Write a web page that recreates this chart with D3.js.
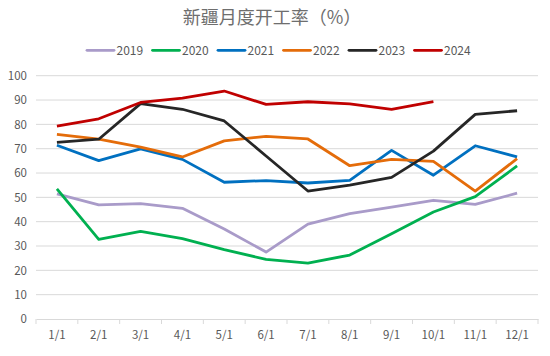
<!DOCTYPE html>
<html><head><meta charset="utf-8">
<script src="https://cdn.jsdelivr.net/npm/d3@7"></script>
<style>body{margin:0;background:#fff}svg{display:block}text{font-family:"Noto Sans CJK SC","Liberation Sans",sans-serif}</style>
</head><body><svg id="c" width="550" height="356"></svg>
<script>
const months = ["1/1","2/1","3/1","4/1","5/1","6/1","7/1","8/1","9/1","10/1","11/1","12/1"];
const yTicks = [0,10,20,30,40,50,60,70,80,90,100];
const v2019 = [51.4,46.9,47.4,45.5,37.0,27.5,39.0,43.3,46.0,48.8,47.1,51.7];
const v2020 = [53.5,32.7,36.0,33.0,28.5,24.5,23.0,26.3,35.0,44.0,50.3,62.9];
const v2021 = [71.4,65.1,69.9,65.6,56.2,56.9,55.9,57.0,69.3,59.1,71.2,66.6];
const v2022 = [75.9,73.9,70.6,66.6,73.2,75.1,74.0,63.0,65.6,64.8,52.6,65.9];
const v2023 = [72.6,73.9,88.5,86.2,81.4,67.0,52.6,55.0,58.2,69.0,84.1,85.6];
const v2024 = [79.3,82.3,89.0,90.8,93.7,88.2,89.3,88.4,86.2,89.3];
const seriesNames = ["2019","2020","2021","2022","2023","2024"];
const seriesColors = ["#A99BC9","#00B050","#0070C0","#E46C0A","#262626","#C00000"];
const seriesValues = [v2019,v2020,v2021,v2022,v2023,v2024];

const svg = d3.select("#c");
const L = 36, R = 538, T = 75.7, B = 319;
const x = d3.scaleBand().domain(months).range([L,R]);
const y = d3.scaleLinear().domain([0,100]).range([B,T]);

svg.append("text").attr("x",272).attr("y",24).attr("text-anchor","middle").attr("font-size",18).attr("fill","#6E6E6E").text("新疆月度开工率（%）");

// gridlines
svg.append("g").selectAll("line").data(yTicks.filter(d=>d>0)).join("line")
  .attr("x1",L).attr("x2",R).attr("y1",d=>y(d)).attr("y2",d=>y(d))
  .attr("stroke","#D9D9D9").attr("stroke-width",1);

// y axis labels
const ya = svg.append("g").attr("transform",`translate(${L-9},0)`)
  .call(d3.axisLeft(y).tickValues(yTicks).tickSize(0).tickPadding(0));
ya.select(".domain").remove();
ya.selectAll("text").attr("font-size",11.5).attr("fill","#595959").attr("font-family","Liberation Sans, Arial, sans-serif");

// x axis
const xa = svg.append("g").attr("transform",`translate(0,${B})`)
  .call(d3.axisBottom(x).tickSize(0).tickPadding(12));
xa.select(".domain").attr("stroke","#D9D9D9");
xa.selectAll("text").attr("font-size",11.5).attr("fill","#595959").attr("font-family","Liberation Sans, Arial, sans-serif");
const bounds = months.map(m=>x(m)).concat([R]);
svg.append("g").selectAll("line").data(bounds).join("line")
  .attr("x1",d=>d).attr("x2",d=>d).attr("y1",B).attr("y2",B+5)
  .attr("stroke","#D9D9D9");

// lines
const line = d3.line().x((d,i)=>x(months[i])+x.bandwidth()/2).y(d=>y(d));
seriesValues.forEach((vals,k)=>{
  svg.append("path").attr("d",line(vals)).attr("fill","none")
    .attr("stroke",seriesColors[k]).attr("stroke-width",2.8).attr("stroke-linejoin","round");
});

// legend
const lg = svg.append("g");
seriesNames.forEach((n,k)=>{
  const lx = 87 + k*65.5;
  lg.append("line").attr("x1",lx).attr("x2",lx+27).attr("y1",50.3).attr("y2",50.3)
    .attr("stroke",seriesColors[k]).attr("stroke-width",2.8).attr("stroke-linecap","round");
  lg.append("text").attr("x",lx+29.5).attr("y",54.5).attr("font-size",12).attr("fill","#595959")
    .attr("font-family","Liberation Sans, Arial, sans-serif").text(n);
});
</script></body></html>
